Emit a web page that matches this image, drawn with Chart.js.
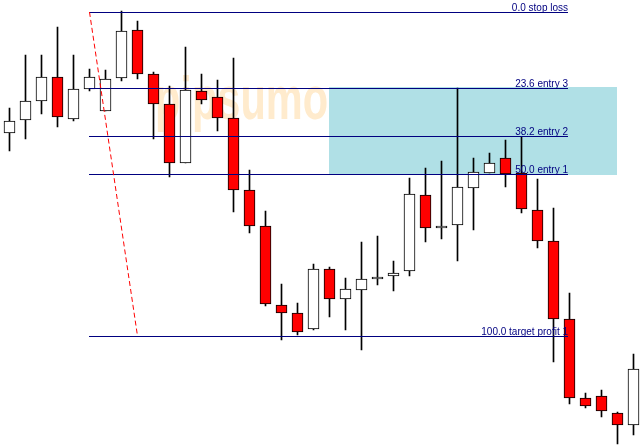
<!DOCTYPE html>
<html>
<head>
<meta charset="utf-8">
<script src="https://cdn.jsdelivr.net/npm/chart.js@4.4.0/dist/chart.umd.min.js"></script>
<style>
    html, body { margin: 0; padding: 0; background: #fff; }
    #wrap { width: 643px; height: 445px; }
</style>
</head>
<body>
<div id="wrap"><canvas id="chart" width="643" height="445"></canvas></div>
<script>
// candle times (hourly bars)
const times = ['01:00', '02:00', '03:00', '04:00', '05:00', '06:00', '07:00', '08:00', '09:00', '10:00',
    '11:00', '12:00', '13:00', '14:00', '15:00', '16:00', '17:00', '18:00', '19:00', '20:00',
    '21:00', '22:00', '23:00', '00:00', '01:00 ', '02:00 ', '03:00 ', '04:00 ', '05:00 ', '06:00 ',
    '07:00 ', '08:00 ', '09:00 ', '10:00 ', '11:00 ', '12:00 ', '13:00 ', '14:00 ', '15:00 ', '16:00 '];

// prices in chart points
const openPrices  = [312, 325, 344, 368, 326, 356, 334, 367, 415, 371, 341, 282, 354, 348, 327, 255, 219, 140, 132, 116,
    176, 146, 155, 166, 169, 174, 250, 217, 220, 257, 272, 287, 272, 235, 204, 126, 47, 49, 32, 20];
const highPrices  = [337, 390, 390, 418, 390, 376, 375, 434, 424, 373, 359, 398, 371, 365, 387, 275, 234, 161, 142, 181,
    178, 167, 203, 209, 184, 267, 277, 284, 357, 287, 292, 305, 308, 266, 237, 152, 52, 55, 33, 91];
const lowPrices   = [294, 306, 331, 318, 324, 354, 334, 364, 366, 306, 268, 282, 341, 314, 233, 212, 139, 105, 110, 115,
    128, 115, 95, 160, 154, 169, 203, 206, 184, 215, 272, 258, 232, 197, 83, 41, 37, 28, 1, 10];
const closePrices = [324, 344, 368, 328, 356, 368, 366, 414, 371, 341, 282, 355, 345, 327, 255, 219, 141, 132, 113, 176,
    146, 156, 166, 168, 172, 251, 217, 219, 258, 273, 282, 271, 236, 204, 126, 47, 39, 34, 20, 76];

// fibonacci tool
const fibHigh = 433;
const fibLow = 109;
const fibLevels = [0, 23.6, 38.2, 50, 100];
const fibNames = ['stop loss', 'entry 3', 'entry 2', 'entry 1', 'target profit 1'];

const BULL = '#ffffff';
const BEAR = '#ff0000';
const NAVY = '#000080';

const levelPrice = lvl => fibHigh - (fibHigh - fibLow) * lvl / 100;

const fibPlugin = {
    id: 'fib',
    beforeDatasetsDraw(chart) {
        const { ctx, scales: { x, y } } = chart;

        // watermark
        ctx.save();
        ctx.fillStyle = '#ffebcd';
        ctx.font = 'bold 62px "Liberation Sans", Arial, sans-serif';
        ctx.translate(155, 119);
        ctx.scale(0.67, 1);
        ctx.fillText('pipsumo', 0, 0);
        ctx.restore();

        // entry zone, 23.6 -> 50.0
        const top = Math.round(y.getPixelForValue(levelPrice(23.6))) - 1;
        const bot = Math.round(y.getPixelForValue(levelPrice(50))) + 1;
        const left = Math.floor(x.getPixelForValue(20));
        const right = Math.floor(x.getPixelForValue(38));
        ctx.save();
        ctx.fillStyle = '#b0e0e6';
        ctx.fillRect(left, top, right - left, bot - top);
        ctx.restore();
    },
    afterDatasetsDraw(chart) {
        const { ctx, scales: { x, y } } = chart;
        const x0 = Math.floor(x.getPixelForValue(5));
        const x1 = Math.round(x.getPixelForValue(34.9));

        ctx.save();
        // level lines
        ctx.strokeStyle = NAVY;
        ctx.lineWidth = 1;
        fibLevels.forEach(lvl => {
            const py = Math.round(y.getPixelForValue(levelPrice(lvl))) + 0.5;
            ctx.beginPath();
            ctx.moveTo(x0, py);
            ctx.lineTo(x1, py);
            ctx.stroke();
        });

        // trend line of the tool
        ctx.strokeStyle = '#ff0000';
        ctx.setLineDash([5, 3]);
        ctx.beginPath();
        ctx.moveTo(x.getPixelForValue(5), y.getPixelForValue(fibHigh));
        ctx.lineTo(x.getPixelForValue(8), y.getPixelForValue(fibLow));
        ctx.stroke();
        ctx.setLineDash([]);

        // labels
        ctx.fillStyle = NAVY;
        ctx.font = '10px "Liberation Sans", Arial, sans-serif';
        ctx.textAlign = 'right';
        ctx.textBaseline = 'alphabetic';
        fibLevels.forEach((lvl, i) => {
            const py = Math.round(y.getPixelForValue(levelPrice(lvl)));
            ctx.fillText(`${lvl.toFixed(1)} ${fibNames[i]}`, x1, py - 1);
        });
        ctx.restore();
    },
};

const bodies = openPrices.map((o, i) => [Math.min(o, closePrices[i]), Math.max(o, closePrices[i])]);
const wicks = lowPrices.map((l, i) => [l, highPrices[i]]);
const bodyColors = openPrices.map((o, i) => closePrices[i] >= o ? BULL : BEAR);

new Chart(document.getElementById('chart'), {
    type: 'bar',
    data: {
        labels: times,
        datasets: [
            {
                label: 'body',
                data: bodies,
                backgroundColor: bodyColors,
                borderColor: '#000',
                borderWidth: 1,
                borderSkipped: false,
                barThickness: 11,
                grouped: false,
                order: 1,
            },
            {
                label: 'wick',
                data: wicks,
                backgroundColor: '#000',
                borderWidth: 0,
                barThickness: 1,
                grouped: false,
                order: 2,
            },
        ],
    },
    options: {
        responsive: false,
        animation: false,
        layout: { padding: { left: 1.5, right: 1.5, top: 0, bottom: 0 } },
        plugins: { legend: { display: false }, tooltip: { enabled: false } },
        scales: {
            x: { display: false, offset: true, grid: { display: false } },
            y: { display: false, min: 0, max: 445, grid: { display: false } },
        },
    },
    plugins: [fibPlugin],
});
</script>
</body>
</html>
